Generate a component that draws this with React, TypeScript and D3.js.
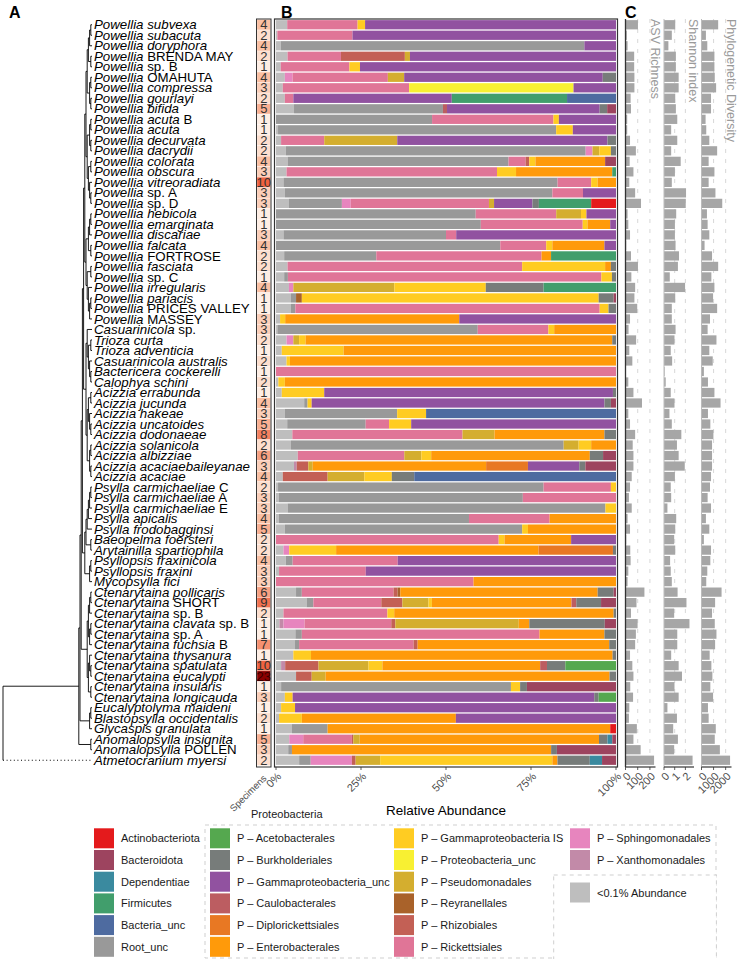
import React from "react";
import * as d3 from "d3";

// ---------------- data ----------------
const SPECIES: [string, string][] = [
  ["Powellia subvexa", ""], ["Powellia subacuta", ""], ["Powellia doryphora", ""], ["Powellia", "BRENDA MAY"],
  ["Powellia", "sp. B"], ["Powellia", "OMAHUTA"], ["Powellia compressa", ""], ["Powellia gourlayi", ""],
  ["Powellia bifida", ""], ["Powellia acuta", "B"], ["Powellia acuta", ""], ["Powellia decurvata", ""],
  ["Powellia dacrydii", ""], ["Powellia colorata", ""], ["Powellia obscura", ""], ["Powellia vitreoradiata", ""],
  ["Powellia", "sp. A"], ["Powellia", "sp. D"], ["Powellia hebicola", ""], ["Powellia emarginata", ""],
  ["Powellia discariae", ""], ["Powellia falcata", ""], ["Powellia", "FORTROSE"], ["Powellia fasciata", ""],
  ["Powellia", "sp. C"], ["Powellia irregularis", ""], ["Powellia pariacis", ""], ["Powellia", "PRICES VALLEY"],
  ["Powellia", "MASSEY"], ["Casuarinicola", "sp."], ["Trioza curta", ""], ["Trioza adventicia", ""],
  ["Casuarinicola australis", ""], ["Bactericera cockerelli", ""], ["Calophya schini", ""], ["Acizzia errabunda", ""],
  ["Acizzia jucunda", ""], ["Acizzia hakeae", ""], ["Acizzia uncatoides", ""], ["Acizzia dodonaeae", ""],
  ["Acizzia solanicola", ""], ["Acizzia albizziae", ""], ["Acizzia acaciaebaileyanae", ""], ["Acizzia acaciae", ""],
  ["Psylla carmichaeliae", "C"], ["Psylla carmichaeliae", "A"], ["Psylla carmichaeliae", "E"], ["Psylla apicalis", ""],
  ["Psylla frodobagginsi", ""], ["Baeopelma foersteri", ""], ["Arytainilla spartiophila", ""], ["Psyllopsis fraxinicola", ""],
  ["Psyllopsis fraxini", ""], ["Mycopsylla fici", ""], ["Ctenarytaina pollicaris", ""], ["Ctenarytaina", "SHORT"],
  ["Ctenarytaina", "sp. B"], ["Ctenarytaina clavata", "sp. B"], ["Ctenarytaina", "sp. A"], ["Ctenarytaina fuchsia", "B"],
  ["Ctenarytaina thysanura", ""], ["Ctenarytaina spatulata", ""], ["Ctenarytaina eucalypti", ""], ["Ctenarytaina insularis", ""],
  ["Ctenarytaina longicauda", ""], ["Eucalyptolyma maideni", ""], ["Blastopsylla occidentalis", ""], ["Glycaspis granulata", ""],
  ["Anomalopsylla insignita", ""], ["Anomalopsylla", "POLLEN"], ["Atmetocranium myersi", ""],
];

const SPECIMENS = [
  4, 2, 4, 2, 1, 4, 3, 2, 5, 1, 1, 2, 2, 4, 3, 10, 3, 3, 1, 1, 3, 4, 2, 2, 1, 4, 1, 1, 3, 3,
  2, 1, 2, 1, 2, 1, 4, 3, 5, 8, 2, 6, 3, 4, 2, 3, 3, 4, 5, 2, 2, 4, 3, 3, 6, 9, 2, 1, 1, 7,
  1, 10, 23, 1, 3, 1, 2, 1, 5, 3, 2,
];

const ASV_RICHNESS = [
  102, 11, 17, 71, 71, 73, 73, 42, 45, 14, 14, 37, 85, 34, 65, 31, 79, 127, 17, 23,
  37, 6, 45, 102, 48, 79, 73, 96, 37, 25, 87, 31, 56, 3, 23, 65, 135, 23, 37, 79,
  59, 65, 65, 51, 37, 28, 51, 17, 37, 6, 39, 42, 23, 17, 155, 90, 45, 99, 85, 79,
  37, 56, 65, 39, 62, 31, 28, 93, 65, 124, 234,
];

const SHANNON_INDEX = [
  1.05, 0.73, 0.41, 1.11, 1.11, 1.37, 1.37, 1.05, 1.11, 1.24, 0.67, 1.24, 0.67, 1.56, 1.02, 0.73, 2.06, 2.03, 1.14, 1.02,
  1.02, 1.08, 1.4, 1.3, 0.54, 1.97, 1.05, 0.73, 0.73, 1.08, 0.98, 0.63, 0.76, 0.06, 0.16, 0.63, 0.98, 0.51, 0.73, 1.62,
  1.21, 1.37, 1.94, 1.02, 0.63, 0.67, 0.32, 1.14, 1.05, 0.95, 1.05, 0.57, 0.63, 0.73, 1.27, 2.1, 0.95, 2.38, 1.24, 1.24,
  0.67, 1.37, 1.68, 0.98, 1.37, 0.32, 1.21, 0.86, 1.3, 0.95, 2.67,
];

const PHYLO_DIVERSITY = [
  1380, 366, 479, 1070, 1070, 1099, 1211, 789, 789, 338, 394, 648, 1296, 592, 1070, 592, 1155, 1718, 451, 507,
  648, 254, 873, 1380, 817, 1070, 958, 1296, 704, 507, 1239, 648, 930, 197, 535, 1070, 1577, 535, 732, 986,
  873, 873, 873, 789, 704, 507, 789, 366, 648, 197, 789, 732, 479, 394, 1662, 1127, 873, 1099, 1239, 1127,
  676, 817, 901, 732, 958, 535, 592, 1183, 1099, 1521, 2366,
];

// stacking order, left to right
const TAXA_CODES = [
  "LG", "RU", "XA", "SP", "RI", "RH", "RE", "PS", "PU", "GI", "EN",
  "DI", "CA", "GU", "BU", "AC", "FI", "BA", "DE", "BD", "AN",
];

const TAXA_LABELS: Record<string, string> = {
  AN: "Actinobacteriota", BD: "Bacteroidota", DE: "Dependentiae", FI: "Firmicutes", BA: "Bacteria_unc",
  RU: "Root_unc", AC: "P \u2013 Acetobacterales", BU: "P \u2013 Burkholderiales",
  GU: "P \u2013 Gammaproteobacteria_unc", CA: "P \u2013 Caulobacterales", DI: "P \u2013 Diplorickettsiales",
  EN: "P \u2013 Enterobacterales", GI: "P \u2013 Gammaproteobacteria IS", PU: "P \u2013 Proteobacteria_unc",
  PS: "P \u2013 Pseudomonadales", RE: "P \u2013 Reyranellales", RH: "P \u2013 Rhizobiales",
  RI: "P \u2013 Rickettsiales", SP: "P \u2013 Sphingomonadales", XA: "P \u2013 Xanthomonadales",
  LG: "<0.1% Abundance",
};

const TAXA_COLORS: Record<string, string> = {
  AN: "#E41A1C", BD: "#9D445F", DE: "#3A8A9F", FI: "#419E6C", BA: "#4E6BA0", RU: "#999999",
  AC: "#55A84F", BU: "#777C7A", GU: "#9152A0", CA: "#BC5D61", DI: "#E87823", EN: "#FF9A0A",
  GI: "#FFCC22", PU: "#F8F032", PS: "#D4AE2F", RE: "#A9622A", RH: "#C36055", RI: "#E07597",
  SP: "#E785BE", XA: "#C28AA8", LG: "#BEBEBE",
};

const ABUNDANCE: [string, number][][] = [
  [["LG", 3.3], ["RI", 20.7], ["GI", 2.2], ["GU", 73.8]],
  [["LG", 0.4], ["RI", 22.1], ["GU", 77.5]],
  [["LG", 1.4], ["RU", 89.3], ["GU", 9.3]],
  [["LG", 3.4], ["RI", 15.7], ["RH", 18.8], ["PS", 1.5], ["GU", 60.6]],
  [["LG", 1.4], ["RI", 20.2], ["GI", 3.1], ["GU", 75.3]],
  [["LG", 2.6], ["SP", 2.3], ["RI", 28.0], ["PS", 4.8], ["GU", 58.4], ["BU", 3.9]],
  [["LG", 2.0], ["RI", 37.2], ["PU", 48.4], ["GU", 12.5]],
  [["LG", 2.6], ["RI", 2.5], ["GU", 46.6], ["FI", 33.9], ["BA", 14.4]],
  [["LG", 5.3], ["RU", 43.8], ["CA", 1.2], ["GU", 44.9], ["BU", 2.2], ["BD", 2.6]],
  [["RU", 45.9], ["RI", 35.7], ["GI", 1.6], ["GU", 16.8]],
  [["LG", 0.6], ["RU", 81.8], ["GI", 4.9], ["GU", 12.7]],
  [["LG", 1.5], ["RI", 12.7], ["PS", 21.5], ["GU", 61.9], ["BU", 2.5]],
  [["LG", 2.9], ["RU", 88.0], ["SP", 2.0], ["PS", 2.0], ["GI", 3.4], ["BU", 1.5]],
  [["LG", 3.4], ["RU", 65.0], ["RI", 5.0], ["RH", 1.1], ["GI", 1.8], ["EN", 20.5], ["BD", 3.2]],
  [["LG", 3.1], ["RI", 61.9], ["GI", 5.6], ["EN", 28.3], ["FI", 1.1]],
  [["LG", 2.2], ["RU", 80.7], ["RI", 9.9], ["GI", 1.9], ["EN", 5.4]],
  [["LG", 2.6], ["RU", 78.6], ["RI", 9.0], ["GU", 9.7]],
  [["LG", 3.8], ["RU", 15.6], ["SP", 2.6], ["RI", 40.7], ["PS", 1.5], ["GU", 11.3], ["BU", 1.9], ["FI", 15.4], ["AN", 7.3]],
  [["RU", 58.8], ["RI", 23.7], ["PS", 7.3], ["GI", 1.6], ["GU", 8.7]],
  [["RU", 60.3], ["RI", 30.0], ["GI", 1.4], ["EN", 6.7], ["GU", 1.7]],
  [["LG", 2.2], ["RU", 47.8], ["RI", 3.0], ["GU", 47.0]],
  [["RU", 65.9], ["RI", 13.5], ["GI", 1.8], ["EN", 15.3], ["GU", 3.4]],
  [["LG", 2.4], ["RU", 27.1], ["RI", 48.6], ["EN", 2.8], ["FI", 19.1]],
  [["LG", 3.4], ["RI", 69.0], ["GI", 24.4], ["EN", 1.7], ["BU", 1.5]],
  [["LG", 2.4], ["RU", 1.1], ["RI", 92.2], ["GI", 3.1], ["BU", 1.2]],
  [["LG", 3.8], ["SP", 1.3], ["PS", 29.7], ["GI", 26.9], ["BU", 17.0], ["FI", 21.3]],
  [["LG", 4.4], ["RU", 1.5], ["RE", 1.7], ["GI", 87.3], ["BU", 4.4], ["BD", 0.7]],
  [["LG", 4.4], ["RU", 1.3], ["RI", 89.5], ["GI", 2.6], ["BU", 2.2]],
  [["LG", 1.2], ["GI", 1.5], ["EN", 51.2], ["GU", 46.1]],
  [["LG", 0.4], ["RU", 59.0], ["RI", 20.8], ["GI", 1.7], ["EN", 18.2]],
  [["LG", 3.1], ["SP", 2.0], ["PS", 1.7], ["GI", 1.9], ["EN", 90.3], ["BU", 1.1]],
  [["LG", 1.7], ["GI", 18.2], ["EN", 80.2]],
  [["LG", 3.1], ["GI", 1.0], ["EN", 95.9]],
  [["RI", 100]],
  [["LG", 0.7], ["GI", 1.9], ["EN", 97.4]],
  [["LG", 1.7], ["GI", 12.5], ["GU", 85.0], ["BU", 0.9]],
  [["LG", 8.3], ["RU", 1.0], ["GI", 1.2], ["GU", 86.2], ["BU", 1.9], ["BD", 1.5]],
  [["LG", 2.6], ["RU", 33.0], ["GI", 8.5], ["BA", 55.8]],
  [["LG", 3.3], ["RU", 23.1], ["RI", 6.9], ["GI", 6.5], ["GU", 60.3]],
  [["LG", 4.8], ["RI", 50.0], ["PS", 9.4], ["EN", 32.3], ["BU", 3.4]],
  [["LG", 4.4], ["RU", 80.2], ["PS", 4.4], ["GI", 3.7], ["EN", 7.3]],
  [["LG", 6.4], ["RI", 31.3], ["PS", 5.0], ["GI", 2.9], ["EN", 46.6], ["BU", 3.9], ["BD", 3.8]],
  [["LG", 5.3], ["XA", 0.8], ["RH", 3.4], ["PS", 1.3], ["EN", 51.0], ["DI", 12.3], ["GU", 15.1], ["BU", 1.8], ["BD", 9.0]],
  [["LG", 2.0], ["RH", 13.2], ["PS", 10.8], ["GI", 8.1], ["BU", 6.6], ["BA", 59.4]],
  [["LG", 0.6], ["RU", 78.1], ["RI", 19.8], ["GI", 1.5]],
  [["LG", 0.8], ["RU", 71.8], ["RI", 27.4]],
  [["LG", 3.4], ["RU", 93.4], ["GI", 3.1]],
  [["LG", 0.8], ["RU", 55.9], ["RI", 23.7], ["EN", 19.5]],
  [["LG", 2.6], ["RU", 69.8], ["GI", 1.7], ["EN", 25.9]],
  [["RI", 65.5], ["GI", 1.7], ["EN", 19.6], ["GU", 13.2]],
  [["LG", 2.2], ["SP", 1.7], ["GI", 13.8], ["EN", 59.6], ["DI", 21.9], ["BU", 0.9]],
  [["LG", 2.9], ["RU", 2.0], ["RI", 30.9], ["GU", 64.2]],
  [["LG", 0.9], ["RI", 25.5], ["GU", 73.6]],
  [["RI", 58.1], ["EN", 41.9]],
  [["LG", 5.9], ["RU", 1.7], ["RI", 27.0], ["RH", 1.2], ["RE", 0.8], ["EN", 58.1], ["BU", 4.7], ["BD", 0.7]],
  [["LG", 9.0], ["RU", 2.0], ["RI", 20.0], ["RH", 6.2], ["PS", 7.7], ["GI", 1.0], ["EN", 41.1], ["CA", 1.4], ["BU", 7.3], ["BD", 4.4]],
  [["LG", 2.2], ["RI", 30.6], ["GI", 2.0], ["EN", 64.6], ["BU", 0.7]],
  [["LG", 1.0], ["XA", 1.2], ["SP", 6.2], ["RI", 25.5], ["RH", 1.2], ["PS", 36.3], ["EN", 3.1], ["BU", 22.2], ["BD", 3.3]],
  [["LG", 5.7], ["RU", 1.9], ["RI", 69.9], ["EN", 19.1], ["BU", 3.4]],
  [["LG", 5.6], ["RU", 1.2], ["RI", 33.7], ["RH", 1.2], ["EN", 56.4], ["BU", 2.0]],
  [["LG", 5.1], ["GI", 5.2], ["EN", 88.7], ["BU", 1.0]],
  [["LG", 1.5], ["XA", 1.2], ["RH", 9.8], ["PS", 14.7], ["GI", 4.1], ["EN", 46.4], ["CA", 2.0], ["BU", 5.4], ["AC", 14.9]],
  [["LG", 5.9], ["RH", 4.6], ["PS", 4.1], ["EN", 83.5], ["BU", 1.9]],
  [["LG", 1.5], ["RU", 67.6], ["GI", 2.7], ["BU", 2.0], ["BD", 26.2]],
  [["LG", 2.6], ["GI", 2.3], ["GU", 88.7], ["BU", 1.3], ["AC", 5.1]],
  [["LG", 1.5], ["GI", 4.1], ["GU", 94.4]],
  [["LG", 0.9], ["GI", 6.7], ["EN", 45.3], ["GU", 47.1]],
  [["LG", 4.7], ["RU", 10.5], ["EN", 83.2], ["AN", 1.7]],
  [["LG", 3.9], ["SP", 4.1], ["RI", 14.3], ["RH", 0.4], ["PS", 1.9], ["EN", 70.3], ["BU", 2.5], ["DE", 1.4], ["BD", 1.1]],
  [["LG", 3.6], ["RU", 1.1], ["EN", 76.3], ["BU", 1.7], ["BD", 17.4]],
  [["LG", 6.8], ["RU", 3.4], ["SP", 12.1], ["RH", 1.1], ["PS", 7.2], ["GI", 50.6], ["EN", 1.5], ["BU", 9.5], ["DE", 3.6], ["BD", 4.1]],
];

// tree topology (tips = 1-based row numbers)
const T_PA = [[[[1, 2], 3], [4, 5]], [[6, 7], [8, 9]]];
const T_PB = [[[10, 11], [12, 13]], [[14, 15], [16, [17, 18]]]];
const T_PC = [[[19, 20], 21], [22, 23]];
const T_PD = [[24, 25], [26, [[27, 28], 29]]];
const T_TRIOZ = [30, [[31, 32], [33, [34, 35]]]];
const T_ACIZ = [[[36, 37], [38, [39, 40]]], [[41, 42], [43, 44]]];
const T_PSYL = [[[[[45, 46], 47], 48], 49], [50, 51]];
const T_MYCO = [[52, 53], 54];
const T_CTEN = [[[[55, 56], 57], [[58, 59], 60]], [[61, [62, 63]], [64, 65]]];
const T_BIG = [[[[T_PA, T_PB], [T_PC, T_PD]], [T_TRIOZ, T_ACIZ]], [T_PSYL, T_MYCO]];
const TREE = [[[[T_BIG, T_CTEN], [[66, 67], 68]], [69, 70]], 71];

const LEGEND_MAIN = ["AN", "BD", "DE", "FI", "BA", "RU"];
const LEGEND_PROTEO = [
  ["AC", "BU", "GU", "CA", "DI", "EN"],
  ["GI", "PU", "PS", "RE", "RH", "RI"],
  ["SP", "XA"],
];
const LEGEND_RARE = ["LG"];

const B_TICKS = [0, 0.25, 0.5, 0.75, 1];
const ASV_TICKS = [0, 100, 200];
const SHANNON_TICKS = [0, 1, 2];
const PD_TICKS = [0, 1000, 2000];

// ---------------- component ----------------
const FONT = "'Liberation Sans', Arial, Helvetica, sans-serif";

export default function App() {
  const n = SPECIES.length;
  const top = 19.5;
  const bottom = 765.5;
  const y = d3.scaleBand<number>().domain(d3.range(n)).range([top, bottom]).paddingInner(0.12).paddingOuter(0.06);
  const bw = y.bandwidth();
  const step = y.step();
  const cy = (i: number) => (y(i) as number) + bw / 2;

  // panel B
  const x = d3.scaleLinear().domain([0, 1]).range([276, 616]);
  const table = ABUNDANCE.map((segs) => {
    const o: Record<string, number> = {};
    TAXA_CODES.forEach((k) => (o[k] = 0));
    segs.forEach(([k, v]) => (o[k] = v));
    return o;
  });
  const stacked = d3.stack<Record<string, number>>().keys(TAXA_CODES).offset(d3.stackOffsetExpand)(table);

  // tree
  const TIP_X = 92;
  const ROOT_X = 3;
  const LEVEL = 1.2;
  const root: any = d3.hierarchy<any>(TREE as any, (d: any) => (Array.isArray(d) ? d : null));
  root.eachAfter((nd: any) => {
    if (!nd.children) nd.yy = cy(nd.data - 1);
    else nd.yy = (nd.children[0].yy + nd.children[nd.children.length - 1].yy) / 2;
    nd.xx = nd.depth === 0 ? ROOT_X : TIP_X - nd.height * LEVEL;
  });
  const treeSegs: { x1: number; y1: number; x2: number; y2: number; dotted?: boolean }[] = [];
  root.each((nd: any) => {
    if (!nd.children) return;
    const ys = nd.children.map((c: any) => c.yy);
    treeSegs.push({ x1: nd.xx, x2: nd.xx, y1: d3.min(ys) as number, y2: d3.max(ys) as number });
    nd.children.forEach((c: any) => {
      if (!c.children && nd.depth === 0) treeSegs.push({ x1: nd.xx, x2: TIP_X, y1: c.yy, y2: c.yy, dotted: true });
      else treeSegs.push({ x1: nd.xx, x2: c.xx, y1: c.yy, y2: c.yy });
    });
  });

  // specimens
  const specColor = d3
    .scaleLinear<string>()
    .domain([1, 4, 10, 23])
    .range(["#FEEEE4", "#FBC0A3", "#F0623F", "#8B0000"])
    .interpolate(d3.interpolateRgb);
  const specX = 257;
  const specW = 13.5;

  // panel C
  const C_W = 30;
  const cPanels = [
    { values: ASV_RICHNESS, ticks: ASV_TICKS, title: "ASV Richness", left: 625.5 },
    { values: SHANNON_INDEX, ticks: SHANNON_TICKS, title: "Shannon index", left: 664 },
    { values: PHYLO_DIVERSITY, ticks: PD_TICKS, title: "Phylogenetic Diversity", left: 701.5 },
  ].map((p) => ({
    ...p,
    scale: d3.scaleLinear().domain([0, (d3.max(p.values) as number) * 1.05]).range([p.left, p.left + C_W]),
  }));

  const axisY = 767;
  const pct = d3.format(".0%");

  // legend geometry
  const keyS = 20;
  const keyStep = 21.7;
  const key0 = 838.3;

  return (
    <svg
      width={739}
      height={959}
      style={{ position: "absolute", left: 0, top: 0, background: "#fff" }}
      fontFamily={FONT}
    >
      <rect x={0} y={0} width={739} height={959} fill="#fff" />
      {/* panel letters */}
      <text x={9} y={18} fontSize={16} fontWeight="bold">A</text>
      <text x={281} y={18} fontSize={16} fontWeight="bold">B</text>
      <text x={625} y={18} fontSize={16} fontWeight="bold">C</text>

      {/* tree */}
      <g stroke="#000" strokeWidth={0.9}>
        {treeSegs.map((s, i) => (
          <line
            key={i}
            x1={s.x1}
            x2={s.x2}
            y1={s.y1}
            y2={s.y2}
            strokeDasharray={s.dotted ? "1,2.6" : undefined}
            strokeWidth={s.dotted ? 1.1 : 0.9}
          />
        ))}
      </g>

      {/* species labels */}
      <g fontSize={13.3} fill="#000">
        {SPECIES.map(([it, pl], i) => (
          <text key={i} x={TIP_X + 2} y={cy(i) + 4.6}>
            <tspan fontStyle="italic">{it}</tspan>
            {pl ? <tspan>{" " + pl}</tspan> : null}
          </text>
        ))}
      </g>

      {/* specimens column */}
      <g>
        {SPECIMENS.map((v, i) => (
          <g key={i}>
            <rect x={specX} y={cy(i) - step / 2} width={specW} height={step} fill={specColor(v)} stroke="#fff" strokeWidth={0.3} />
            <text x={specX + specW / 2} y={cy(i) + 4.6} fontSize={13} textAnchor="middle" fill={v > 15 ? "#3a0000" : "#333"}>
              {v}
            </text>
          </g>
        ))}
        <rect x={specX - 0.5} y={19} width={specW + 1} height={axisY - 19} fill="none" stroke="#333" strokeWidth={1} />
      </g>
      <text transform={`translate(267,779) rotate(-45)`} textAnchor="end" fontSize={9.5} fill="#4D4D4D">
        Specimens
      </text>

      {/* panel B bars */}
      <g>
        {stacked.map((ser) => (
          <g key={ser.key} fill={TAXA_COLORS[ser.key]}>
            {ser.map((d, i) =>
              d[1] - d[0] > 0 ? (
                <rect key={i} x={x(d[0])} y={y(i) as number} width={Math.max(0, x(d[1]) - x(d[0]))} height={bw} />
              ) : null
            )}
          </g>
        ))}
      </g>
      <rect x={274.5} y={19} width={343} height={axisY - 19} fill="none" stroke="#333" strokeWidth={1.2} />
      <g>
        {B_TICKS.map((t) => (
          <g key={t}>
            <line x1={x(t)} x2={x(t)} y1={axisY} y2={axisY + 3} stroke="#333" strokeWidth={0.8} />
            <text transform={`translate(${x(t) + 6},${axisY + 10}) rotate(-45)`} textAnchor="end" fontSize={11} fill="#4D4D4D">
              {pct(t)}
            </text>
          </g>
        ))}
      </g>
      <text x={446} y={815} textAnchor="middle" fontSize={13.5} fill="#000">
        Relative Abundance
      </text>

      {/* panel C */}
      {cPanels.map((p, pi) => (
        <g key={p.title}>
          {p.ticks
            .filter((t) => t > 0)
            .map((t) => (
              <line
                key={t}
                x1={p.scale(t)}
                x2={p.scale(t)}
                y1={19}
                y2={axisY}
                stroke="#D3D3D3"
                strokeWidth={0.9}
                strokeDasharray="4,6"
              />
            ))}
          {p.values.map((v, i) => (
            <rect key={i} x={p.left} y={y(i) as number} width={p.scale(v) - p.left} height={bw} fill="#A6A6A6" />
          ))}
          <line x1={p.left} x2={p.left} y1={19} y2={axisY} stroke={pi === 0 ? "#333" : "#BBBBBB"} strokeWidth={pi === 0 ? 1.3 : 1} />
          <line x1={p.left} x2={p.left + C_W} y1={axisY} y2={axisY} stroke="#333" strokeWidth={1.2} />
          {p.ticks.map((t) => (
            <g key={t}>
              <line x1={p.scale(t)} x2={p.scale(t)} y1={axisY} y2={axisY + 3} stroke="#333" strokeWidth={0.8} />
              <text
                transform={`translate(${p.scale(t) + 6},${axisY + 10}) rotate(-45)`}
                textAnchor="end"
                fontSize={11}
                fill="#4D4D4D"
              >
                {t}
              </text>
            </g>
          ))}
          <text transform={`translate(${p.left + 25},19) rotate(90)`} fontSize={12.5} fill="#9A9A9A">
            {p.title}
          </text>
        </g>
      ))}

      {/* legends */}
      <g fontSize={11} fill="#1a1a1a">
        {LEGEND_MAIN.map((k, j) => (
          <g key={k}>
            <rect x={94} y={key0 + j * keyStep - keyS / 2} width={keyS} height={keyS} fill={TAXA_COLORS[k]} />
            <text x={121} y={key0 + j * keyStep + 4}>{TAXA_LABELS[k]}</text>
          </g>
        ))}
        <text x={251} y={818} fontSize={11}>Proteobacteria</text>
        <rect x={205} y={825} width={511} height={133} fill="none" stroke="#CFCFCF" strokeDasharray="4,4" strokeWidth={1} />
        {LEGEND_PROTEO.map((col, ci) =>
          col.map((k, j) => {
            const kx = [210, 394, 570][ci];
            return (
              <g key={k}>
                <rect x={kx} y={key0 + j * keyStep - keyS / 2} width={keyS} height={keyS} fill={TAXA_COLORS[k]} />
                <text x={kx + 27} y={key0 + j * keyStep + 4}>{TAXA_LABELS[k]}</text>
              </g>
            );
          })
        )}
        <rect x={553.7} y={875} width={162.7} height={100} fill="#fff" stroke="#CFCFCF" strokeDasharray="4,4" strokeWidth={1} />
        {LEGEND_RARE.map((k) => (
          <g key={k}>
            <rect x={570} y={892.5 - keyS / 2} width={keyS} height={keyS} fill={TAXA_COLORS[k]} />
            <text x={597} y={896.5}>{TAXA_LABELS[k]}</text>
          </g>
        ))}
      </g>
    </svg>
  );
}
